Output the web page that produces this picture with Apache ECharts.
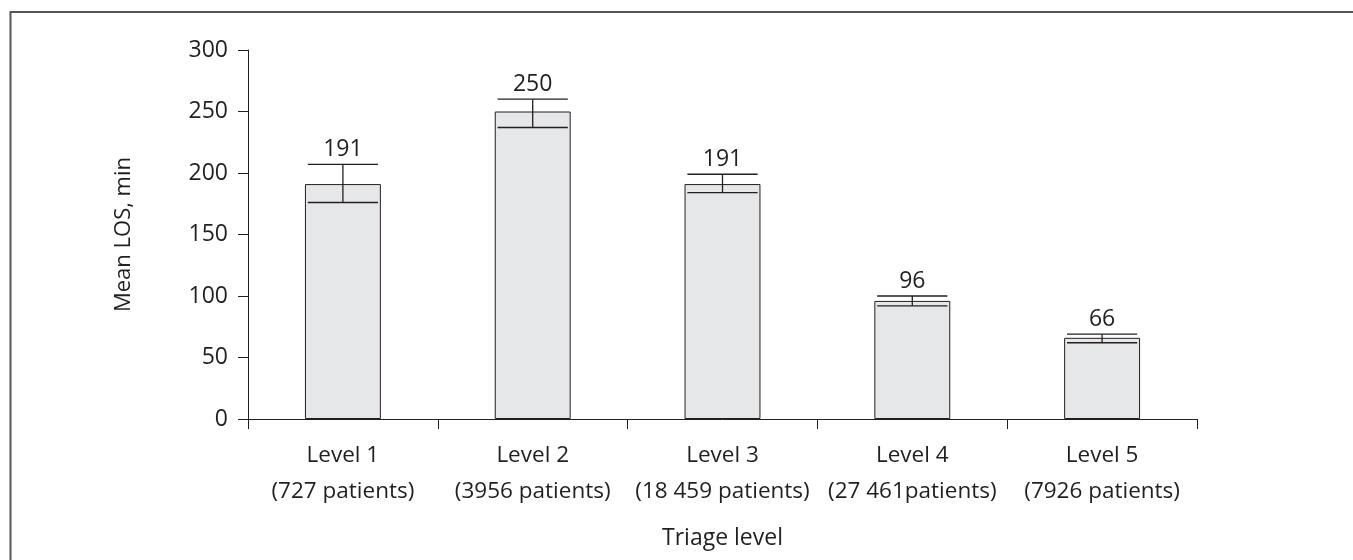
<!DOCTYPE html>
<html><head><meta charset="utf-8">
<script src="https://cdn.jsdelivr.net/npm/echarts@6/dist/echarts.min.js"></script>
<style>html,body{margin:0;padding:0;background:#fff}#c{width:1353px;height:560px}</style>
</head><body><div id="c"></div>
<script>
const levels = ['Level 1','Level 2','Level 3','Level 4','Level 5'];
const patients = ['(727 patients)','(3956 patients)','(18 459 patients)','(27 461patients)','(7926 patients)'];
const means = [191, 250, 191, 96, 66];
const lower = [176, 237, 184, 92, 62];
const upper = [207, 260, 199, 100, 69];
const yTicks = [0, 50, 100, 150, 200, 250, 300];

const categories = levels.map((l, i) => l + '\n' + patients[i]);
const FONT = '"Open Sans", "Noto Sans", sans-serif';
const chart = echarts.init(document.getElementById('c'), null, {renderer: 'canvas'});
chart.setOption({
  animation: false,
  backgroundColor: '#fff',
  graphic: [{
    type: 'rect', silent: true,
    shape: {x: 10.5, y: 12, width: 1400, height: 600},
    style: {fill: 'none', stroke: '#555', lineWidth: 2}
  }],
  grid: {left: 248, right: 156, top: 50, bottom: 141},
  xAxis: {
    type: 'category', data: categories,
    name: 'Triage level', nameLocation: 'middle', nameGap: 108,
    nameTextStyle: {fontFamily: FONT, fontSize: 23, color: '#231f20'},
    axisLine: {lineStyle: {color: '#231f20', width: 1}},
    axisTick: {show: true, length: 10, lineStyle: {color: '#231f20'}},
    axisLabel: {interval: 0, hideOverlap: false, fontFamily: FONT, fontSize: 22.5, color: '#231f20', lineHeight: 36, margin: 19}
  },
  yAxis: {
    type: 'value', min: 0, max: 300, interval: 50,
    name: 'Mean LOS, min', nameLocation: 'middle', nameGap: 113, nameRotate: 90,
    nameTextStyle: {fontFamily: FONT, fontSize: 22, color: '#231f20'},
    axisLine: {show: true, lineStyle: {color: '#231f20', width: 1}},
    axisTick: {show: true, length: 10, lineStyle: {color: '#231f20'}},
    splitLine: {show: false},
    axisLabel: {fontFamily: FONT, fontSize: 23, color: '#231f20', margin: 20,
      formatter: v => yTicks.includes(v) ? String(v) : ''}
  },
  series: [{
    type: 'bar', data: means, barWidth: '40%',
    itemStyle: {color: '#e6e7e8', borderColor: '#231f20', borderWidth: 1}
  }, {
    type: 'custom',
    data: means.map((m, i) => [i, lower[i], upper[i], m]),
    renderItem: function (params, api) {
      const i = api.value(0);
      const lo = api.coord([i, api.value(1)]);
      const hi = api.coord([i, api.value(2)]);
      const bw = api.size([1, 0])[0] * 0.37;
      const x = hi[0];
      const st = {stroke: '#231f20', lineWidth: 1.3};
      return {type: 'group', children: [
        {type: 'line', shape: {x1: x, y1: hi[1], x2: x, y2: lo[1]}, style: st},
        {type: 'line', shape: {x1: x - bw / 2, y1: hi[1], x2: x + bw / 2, y2: hi[1]}, style: st},
        {type: 'line', shape: {x1: x - bw / 2, y1: lo[1], x2: x + bw / 2, y2: lo[1]}, style: st},
        {type: 'text', style: {text: String(api.value(3)), x: x, y: hi[1] - 3,
          textAlign: 'center', textVerticalAlign: 'bottom',
          font: '23px ' + FONT, fill: '#231f20'}}
      ]};
    },
    z: 5
  }]
});
</script></body></html>
